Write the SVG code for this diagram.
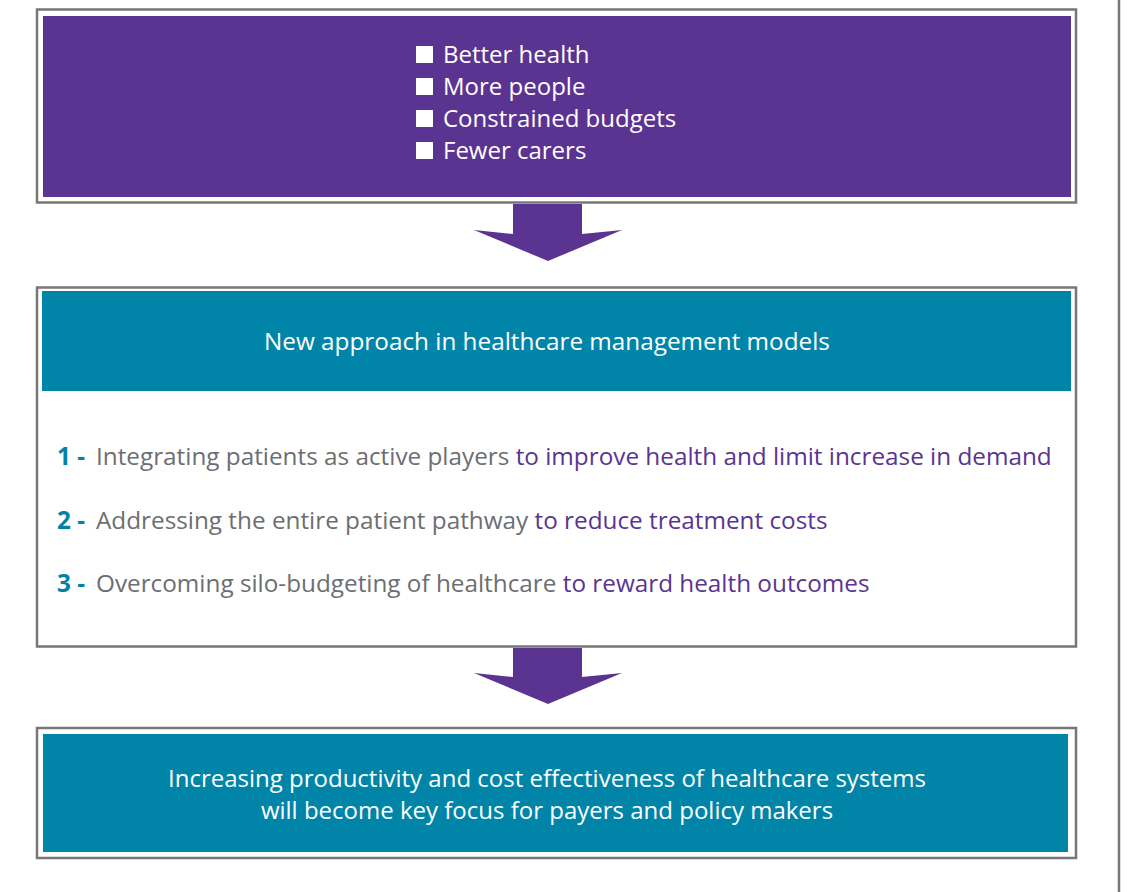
<svg xmlns="http://www.w3.org/2000/svg" width="1142" height="892" viewBox="0 0 1142 892">
  <style>
    .frame { fill: #ffffff; stroke: #777777; stroke-width: 2.5; }
    .purple { fill: #5b3491; }
    .teal { fill: #0085a8; }
    .arrow { fill: #5b3491; }
    text { font-family: "Open Sans", "Noto Sans", sans-serif; font-size: 24px; }
    .item { font-size: 24.3px; }
    .head { font-size: 24.3px; }
    .white { fill: #ffffff; }
    .grey { fill: #6d6e71; }
    .vio { fill: #5b3491; }
    .num { fill: #0083a6; font-weight: bold; }
  </style>

  <!-- page rule on the right -->
  <line x1="1119" y1="0" x2="1119" y2="892" stroke="#777777" stroke-width="2.5"/>

  <!-- drivers -->
  <g id="drivers">
    <rect class="frame" x="37" y="9.5" width="1039" height="193"/>
    <rect class="purple" x="43" y="16" width="1028" height="181"/>
    <rect class="white" x="416" y="46" width="17" height="17"/>
    <rect class="white" x="416" y="78" width="17" height="17"/>
    <rect class="white" x="416" y="110" width="17" height="17"/>
    <rect class="white" x="416" y="142" width="17" height="17"/>
    <text class="white" x="443" y="63">Better health</text>
    <text class="white" x="443" y="95">More people</text>
    <text class="white" x="443" y="127">Constrained budgets</text>
    <text class="white" x="443" y="159">Fewer carers</text>
  </g>

  <!-- new approach -->
  <g id="approach">
    <rect class="frame" x="37" y="287.5" width="1039" height="359"/>
    <rect class="teal" x="42" y="291" width="1029" height="100"/>
    <text class="white head" x="547" y="350" text-anchor="middle">New approach in healthcare management models</text>
    <text class="item" x="57" y="465"><tspan class="num">1 -</tspan><tspan class="grey" x="96">Integrating patients as active players </tspan><tspan class="vio">to improve health and limit increase in demand</tspan></text>
    <text class="item" x="57" y="529"><tspan class="num">2 -</tspan><tspan class="grey" x="96">Addressing the entire patient pathway </tspan><tspan class="vio">to reduce treatment costs</tspan></text>
    <text class="item" x="57" y="592"><tspan class="num">3 -</tspan><tspan class="grey" x="96">Overcoming silo-budgeting of healthcare </tspan><tspan class="vio">to reward health outcomes</tspan></text>
  </g>

  <!-- outcome -->
  <g id="outcome">
    <rect class="frame" x="37" y="728" width="1039" height="130"/>
    <rect class="teal" x="43" y="734" width="1025" height="118"/>
    <text class="white" x="547" y="787" text-anchor="middle">Increasing productivity and cost effectiveness of healthcare systems</text>
    <text class="white" x="547" y="819" text-anchor="middle">will become key focus for payers and policy makers</text>
  </g>

  <!-- connectors -->
  <g id="connectors">
    <polygon class="arrow" points="513,204 582,204 582,234 622,230 548,261 474,230 513,234"/>
    <polygon class="arrow" points="513,648 582,648 582,677 622,673 548,704 474,673 513,677"/>
  </g>
</svg>
